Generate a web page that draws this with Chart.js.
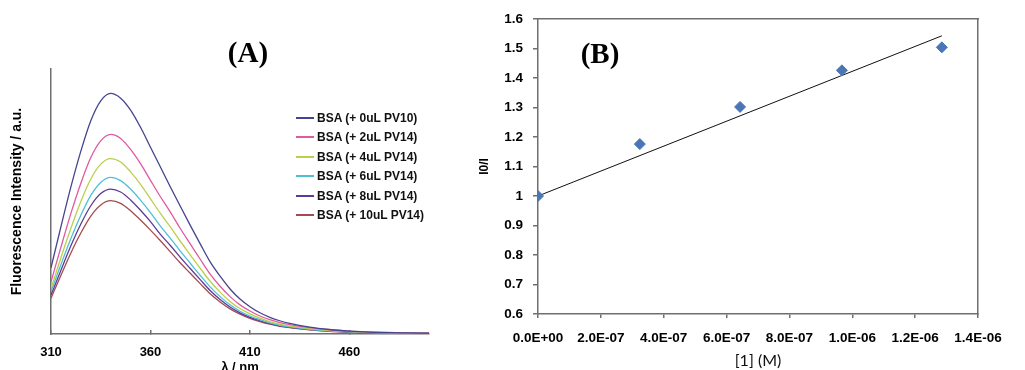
<!DOCTYPE html>
<html>
<head>
<meta charset="utf-8">
<title>BSA fluorescence quenching</title>
<script src="https://cdn.jsdelivr.net/npm/chart.js@4.4.1/dist/chart.umd.min.js"></script>
<style>
  html, body { margin: 0; padding: 0; background: #fff; overflow: hidden; }
  #wrap { position: relative; width: 1025px; height: 370px; overflow: hidden; }
  #chartA { position: absolute; left: 0; top: 0; }
  #chartB { position: absolute; left: 470px; top: 0; }
  #legendA { position: absolute; left: 296px; top: 108px; font: bold 12px "Liberation Sans", Arial, sans-serif; color: #111; }
  #legendA .item { display: flex; align-items: center; height: 19.5px; white-space: nowrap; }
  #legendA .swatch { width: 18px; height: 2px; margin-right: 3px; }
</style>
</head>
<body>
<div id="wrap">
  <canvas id="chartA" width="470" height="390"></canvas>
  <canvas id="chartB" width="555" height="370"></canvas>
  <div id="legendA"></div>
</div>
<script>
// (A) emission spectra, arbitrary intensity units
const wavelengths = [310, 315, 320, 325, 330, 335, 340, 345, 350, 355, 360, 365, 370, 375, 380, 385, 390, 395, 400, 405, 410, 415, 420, 425, 430, 440, 450, 460, 470, 480, 490, 500];
const seriesNames = ['BSA (+ 0uL PV10)', 'BSA (+ 2uL PV14)', 'BSA (+ 4uL PV14)', 'BSA (+ 6uL PV14)', 'BSA (+ 8uL PV14)', 'BSA (+ 10uL PV14)'];
const bsa0 = [250, 405, 555, 690, 805, 880, 908, 890, 845, 780, 705, 630, 555, 482, 410, 340, 272, 218, 170, 132, 103, 80, 63, 50, 40, 26, 17, 11, 7, 5, 4, 3];
const bsa2 = [197, 328, 455, 569, 666, 729, 753, 738, 697, 643, 580, 518, 460, 398, 340, 282, 226, 180, 141, 110, 87, 68, 54, 43, 35, 24, 16, 11, 8, 6, 4, 3];
const bsa4 = [172, 288, 399, 500, 585, 641, 662, 649, 612, 565, 510, 455, 404, 350, 299, 248, 199, 158, 123, 96, 76, 60, 47, 37, 30, 20, 13, 9, 6, 4, 3, 2];
const bsa6 = [160, 262, 360, 448, 523, 572, 591, 579, 547, 505, 458, 407, 361, 313, 267, 221, 178, 141, 110, 86, 68, 54, 42, 33, 27, 18, 12, 8, 5, 4, 3, 2];
const bsa8 = [147, 241, 333, 415, 484, 530, 547, 536, 506, 467, 424, 376, 334, 289, 247, 205, 164, 130, 102, 80, 63, 50, 39, 31, 25, 17, 11, 7, 5, 3, 2, 2];
const bsa10 = [135, 222, 306, 381, 445, 487, 503, 493, 465, 430, 392, 352, 310, 268, 229, 190, 152, 121, 95, 75, 59, 47, 37, 29, 24, 16, 10, 7, 5, 3, 2, 2];
const xTicksA = [310, 360, 410, 460];

// (B) Stern-Volmer plot
const conc = [0, 3.24e-7, 6.43e-7, 9.67e-7, 1.285e-6];
const ratio = [1.0, 1.176, 1.302, 1.426, 1.504];
const trendConc = [0, 1.285e-6];
const trendRatio = [1.0, 1.543];
const xTicksB = [0, 2e-7, 4e-7, 6e-7, 8e-7, 1e-6, 1.2e-6, 1.4e-6];
const yTicksB = [0.6, 0.7, 0.8, 0.9, 1.0, 1.1, 1.2, 1.3, 1.4, 1.5, 1.6];

const lineColors = ['#45458f', '#e05a9e', '#bccf4a', '#4fc0d6', '#5e3a98', '#a34c4f'];
const axisGrey = '#6f6f6f';

const panelLabel = {
  id: 'panelLabel',
  afterDraw(chart, args, opts) {
    const ctx = chart.ctx;
    ctx.save();
    ctx.font = 'bold 29px "Liberation Serif", "Times New Roman", serif';
    ctx.fillStyle = '#000';
    ctx.textAlign = 'center';
    ctx.textBaseline = 'middle';
    ctx.fillText(opts.text, opts.x, opts.y);
    ctx.restore();
  }
};

function sci(v) {
  const parts = v.toExponential(1).split('e');
  const e = parseInt(parts[1], 10);
  return parts[0] + 'E' + (e < 0 ? '-' : '+') + String(Math.abs(e)).padStart(2, '0');
}

// ---- chart A ----
const spectra = [bsa0, bsa2, bsa4, bsa6, bsa8, bsa10];
const fontA = { family: '"Liberation Sans", Arial, sans-serif', weight: 'bold' };

const chartA = new Chart(document.getElementById('chartA'), {
  type: 'line',
  data: {
    datasets: spectra.map((s, i) => ({
      label: seriesNames[i],
      data: wavelengths.map((w, j) => ({ x: w, y: s[j] })),
      borderColor: lineColors[i],
      backgroundColor: lineColors[i],
      borderWidth: 1.3,
      pointRadius: 0,
      cubicInterpolationMode: 'monotone'
    }))
  },
  options: {
    responsive: false,
    animation: false,
    devicePixelRatio: 1,
    layout: { padding: { top: 69, right: 41, left: 0, bottom: 0 } },
    plugins: {
      legend: { display: false },
      tooltip: { enabled: false },
      panelLabel: { text: '(A)', x: 248, y: 55 }
    },
    scales: {
      x: {
        type: 'linear',
        min: 310,
        max: 500,
        afterBuildTicks: s => { s.ticks = xTicksA.map(v => ({ value: v })); },
        afterFit: s => { s.height = 56; },
        grid: { drawOnChartArea: false, drawTicks: true, tickLength: -4, color: axisGrey, lineWidth: 1.5 },
        border: { color: axisGrey, width: 1.5 },
        ticks: { color: '#000', padding: 15, maxRotation: 0, autoSkip: false, font: { ...fontA, size: 13 } },
        title: { display: true, text: 'λ / nm', color: '#000', font: { ...fontA, size: 13 }, padding: { top: 0, bottom: 15 } }
      },
      y: {
        min: 0,
        max: 1000,
        afterFit: s => { s.width = 51; },
        grid: { display: false },
        border: { color: axisGrey, width: 1.5 },
        ticks: { display: false },
        title: { display: true, text: 'Fluorescence Intensity / a.u.', color: '#000', font: { ...fontA, size: 14 }, padding: { top: 9, bottom: 0 } }
      }
    }
  },
  plugins: [panelLabel]
});

// html legend for A, placed inside the plot like the original
const legendBox = document.getElementById('legendA');
chartA.data.datasets.forEach(ds => {
  const row = document.createElement('div');
  row.className = 'item';
  const sw = document.createElement('span');
  sw.className = 'swatch';
  sw.style.background = ds.borderColor;
  const txt = document.createElement('span');
  txt.textContent = ds.label;
  row.appendChild(sw);
  row.appendChild(txt);
  legendBox.appendChild(row);
});

// ---- chart B ----
const fontB = { family: '"Liberation Sans", Arial, sans-serif', weight: 'bold' };
// empty axes that only draw the top and right edges of the plot box
const edgeAxis = (pos, isX) => ({
  type: 'linear',
  position: pos,
  min: 0,
  max: 1,
  grid: { display: false },
  ticks: { display: false },
  border: { display: true, color: axisGrey, width: 1.5 },
  afterFit: s => { if (isX) s.height = 0; else s.width = 0; }
});

new Chart(document.getElementById('chartB'), {
  type: 'scatter',
  data: {
    datasets: [
      {
        label: 'I0/I',
        data: conc.map((c, i) => ({ x: c, y: ratio[i] })),
        pointStyle: 'rectRot',
        pointRadius: 5.5,
        backgroundColor: '#4a76b5',
        borderColor: '#4a76b5',
        borderWidth: 1
      },
      {
        type: 'line',
        label: 'Linear fit',
        data: trendConc.map((c, i) => ({ x: c, y: trendRatio[i] })),
        borderColor: '#111',
        borderWidth: 1,
        pointRadius: 0
      }
    ]
  },
  options: {
    responsive: false,
    animation: false,
    devicePixelRatio: 1,
    layout: { padding: { top: 19, right: 47, left: 0, bottom: 0 } },
    plugins: {
      legend: { display: false },
      tooltip: { enabled: false },
      panelLabel: { text: '(B)', x: 130, y: 56 }
    },
    scales: {
      x: {
        type: 'linear',
        min: 0,
        max: 1.4e-6,
        afterBuildTicks: s => { s.ticks = xTicksB.map(v => ({ value: v })); },
        afterFit: s => { s.height = 56; },
        grid: { drawOnChartArea: false, drawTicks: true, tickLength: 4, color: axisGrey, lineWidth: 1.5 },
        border: { color: axisGrey, width: 1.5 },
        ticks: { color: '#000', padding: 12, maxRotation: 0, autoSkip: false, callback: v => sci(v), font: { ...fontB, size: 13.5 } },
        title: { display: true, text: '[1] (M)', color: '#111', font: { family: 'Lato, "Open Sans", sans-serif', size: 16 }, padding: { top: 0, bottom: 0 } }
      },
      y: {
        min: 0.6,
        max: 1.6,
        afterBuildTicks: s => { s.ticks = yTicksB.map(v => ({ value: v })); },
        afterFit: s => { s.width = 68; },
        grid: { drawOnChartArea: false, drawTicks: true, tickLength: 5, color: axisGrey, lineWidth: 1.5 },
        border: { color: axisGrey, width: 1.5 },
        ticks: { color: '#000', padding: 10, autoSkip: false, callback: v => String(+v.toFixed(1)), font: { ...fontB, size: 13.5 } },
        title: { display: true, text: 'I0/I', color: '#000', font: { ...fontB, size: 12 }, padding: { top: 7, bottom: 0 } }
      },
      xTop: edgeAxis('top', true),
      yRight: edgeAxis('right', false)
    }
  },
  plugins: [panelLabel]
});
</script>
</body>
</html>
